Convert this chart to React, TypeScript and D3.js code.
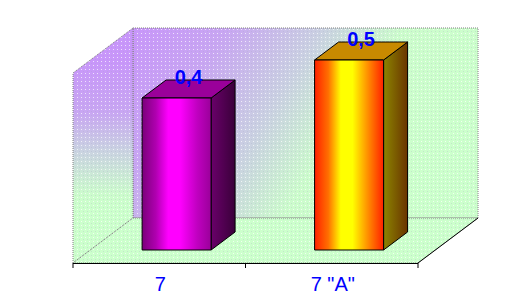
import React from "react";
import * as d3 from "d3";

const categories = ["7", '7 "A"'];
const values = [0.4, 0.5];
const valueLabels = ["0,4", "0,5"];
const yDomain = [0, 0.5];
const barGradients = [
  {
    front: ["#7a007a", "#b000b0", "#ff00ff", "#ff00ff", "#c000c0", "#9a009a"],
    side: ["#6a006a", "#3a003a"],
    top: "#9a009a",
  },
  {
    front: ["#ff2000", "#ff7000", "#ffff00", "#ffff00", "#ff8000", "#ff2000"],
    side: ["#8c8400", "#6a3400"],
    top: "#c88a00",
  },
];

const W = 530;
const H = 307;
const X0 = 73;
const X1 = 418;
const BASE_Y = 263;
const PLOT_H = 190;
const DX = 60;
const DY = 45;
const Z_FRONT = 13 / 45;
const Z_BACK = 31 / 45;

export default function App() {
  const x = d3.scaleBand<string>().domain(categories).range([X0, X1]).paddingInner(0.6).paddingOuter(0.3);
  const y = d3.scaleLinear().domain(yDomain).range([0, PLOT_H]);
  const proj = (px: number, v: number, z: number): [number, number] => [px + DX * z, BASE_Y - y(v) - DY * z];
  const poly = (pts: [number, number][]) => pts.map((p) => p.join(",")).join(" ");

  const step = x.step();
  const tickXs = [X0, ...categories.map((_, i) => X0 + step * (i + 1))];

  const backWall = poly([proj(X0, yDomain[1], 1), proj(X1, yDomain[1], 1), proj(X1, 0, 1), proj(X0, 0, 1)]);
  const leftWall = poly([proj(X0, 0, 0), proj(X0, yDomain[1], 0), proj(X0, yDomain[1], 1), proj(X0, 0, 1)]);
  const floor = poly([proj(X0, 0, 0), proj(X1, 0, 0), proj(X1, 0, 1), proj(X0, 0, 1)]);

  return (
    <svg width={W} height={H} style={{ position: "absolute", left: 0, top: 0, background: "#fff" }}>
      <defs>
        <linearGradient id="backG" gradientUnits="userSpaceOnUse" x1={133} y1={28} x2={400} y2={200}>
          <stop offset="0" stopColor="#c896fa" />
          <stop offset="0.25" stopColor="#c8a6f2" />
          <stop offset="0.5" stopColor="#cad0e2" />
          <stop offset="0.72" stopColor="#ccfccc" />
          <stop offset="1" stopColor="#ccffcc" />
        </linearGradient>
        <linearGradient id="leftG" gradientUnits="userSpaceOnUse" x1={0} y1={60} x2={0} y2={210}>
          <stop offset="0" stopColor="#c896fa" />
          <stop offset="0.35" stopColor="#c8a6f2" />
          <stop offset="0.6" stopColor="#cad2e2" />
          <stop offset="0.9" stopColor="#ccfccc" />
          <stop offset="1" stopColor="#ccffcc" />
        </linearGradient>
        <pattern id="dots" width={4} height={4} patternUnits="userSpaceOnUse">
          <rect x={1} y={1} width={1} height={1} fill="#ffffff" opacity={0.7} />
          <rect x={3} y={3} width={1} height={1} fill="#a0a0c0" opacity={0.25} />
        </pattern>
        {barGradients.map((g, i) => (
          <React.Fragment key={i}>
            <linearGradient id={`front${i}`} x1="0" y1="0" x2="1" y2="0">
              {g.front.map((c, j) => (
                <stop key={j} offset={[0, 0.2, 0.38, 0.55, 0.8, 1][j]} stopColor={c} />
              ))}
            </linearGradient>
            <linearGradient id={`side${i}`} x1="0" y1="0" x2="1" y2="0">
              <stop offset="0" stopColor={g.side[0]} />
              <stop offset="1" stopColor={g.side[1]} />
            </linearGradient>
          </React.Fragment>
        ))}
      </defs>

      <polygon points={backWall} fill="url(#backG)" />
      <polygon points={backWall} fill="url(#dots)" stroke="#808080" strokeDasharray="1,1" />
      <polygon points={leftWall} fill="url(#leftG)" />
      <polygon points={leftWall} fill="url(#dots)" stroke="#808080" strokeDasharray="1,1" />
      <polygon points={floor} fill="#ccffcc" />
      <polygon points={floor} fill="url(#dots)" stroke="#808080" strokeDasharray="1,1" />
      <line x1={proj(X1, 0, 0)[0]} y1={BASE_Y} x2={proj(X1, 0, 1)[0]} y2={proj(X1, 0, 1)[1]} stroke="#000" />
      <line x1={X0} y1={BASE_Y + 0.5} x2={X1} y2={BASE_Y + 0.5} stroke="#000" />
      {tickXs.map((tx, i) => (
        <line key={i} x1={tx} x2={tx} y1={BASE_Y} y2={BASE_Y + 5} stroke="#000" />
      ))}

      {categories.map((c, i) => {
        const bx = x(c)!;
        const w = x.bandwidth();
        const v = values[i];
        const front = poly([proj(bx, 0, Z_FRONT), proj(bx + w, 0, Z_FRONT), proj(bx + w, v, Z_FRONT), proj(bx, v, Z_FRONT)]);
        const side = poly([proj(bx + w, 0, Z_FRONT), proj(bx + w, 0, Z_BACK), proj(bx + w, v, Z_BACK), proj(bx + w, v, Z_FRONT)]);
        const top = poly([proj(bx, v, Z_FRONT), proj(bx + w, v, Z_FRONT), proj(bx + w, v, Z_BACK), proj(bx, v, Z_BACK)]);
        const tf = proj(bx + w / 2, v, Z_FRONT);
        const tb = proj(bx + w / 2, v, Z_BACK);
        const lx = (tf[0] + tb[0]) / 2;
        const ly = (tf[1] + tb[1]) / 2 - 5;
        return (
          <g key={c}>
            <polygon points={side} fill={`url(#side${i})`} stroke="#000" strokeWidth={1} />
            <polygon points={top} fill={barGradients[i].top} stroke="#000" strokeWidth={1} />
            <polygon points={front} fill={`url(#front${i})`} stroke="#000" strokeWidth={1} />
            <text
              x={lx}
              y={ly}
              textAnchor="middle"
              fontFamily="'Liberation Sans', Arial, sans-serif"
              fontWeight="bold"
              fontSize={20}
              fill="#0000ff"
            >
              {valueLabels[i]}
            </text>
            <text
              x={bx + w / 2 + 1}
              y={291}
              textAnchor="middle"
              fontFamily="'Liberation Sans', Arial, sans-serif"
              fontSize={20}
              fill="#0000ff"
            >
              {c}
            </text>
          </g>
        );
      })}
    </svg>
  );
}
